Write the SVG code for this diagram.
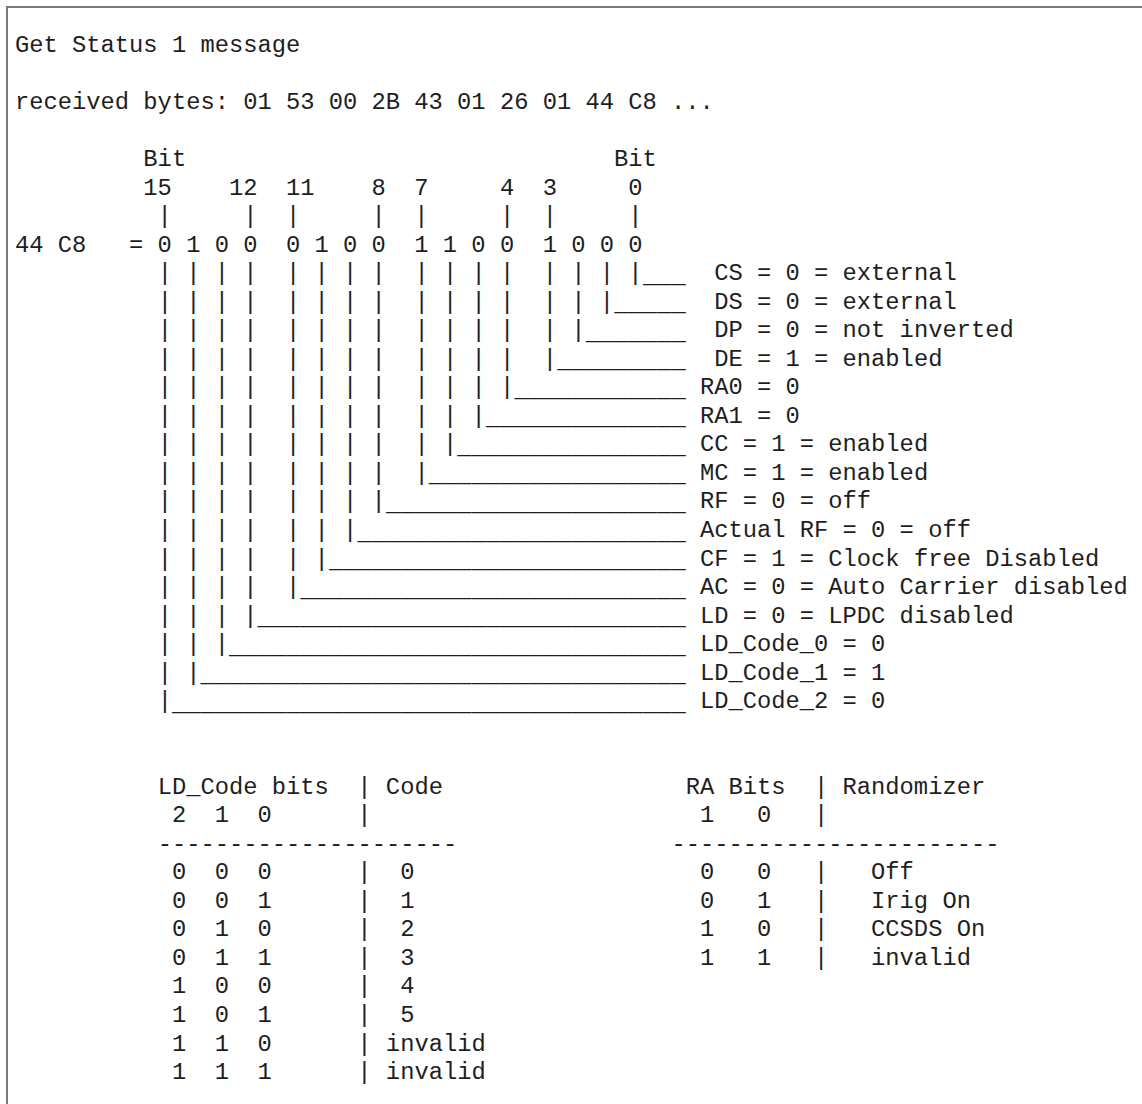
<svg xmlns="http://www.w3.org/2000/svg" width="1142" height="1104" viewBox="0 0 1142 1104" xml:space="preserve">
<style>
  text { font-family: "Liberation Mono", "Courier New", monospace; font-size: 23.783px; fill: #1e1e1e; white-space: pre; }
  .frame { fill: none; stroke: #7a7a7a; stroke-width: 2; }
</style>
<rect x="0" y="0" width="1142" height="1104" fill="#ffffff"/>
<path class="frame" d="M7 1104 V7 H1142"/>

<g id="header">
  <text x="15" y="52">Get Status 1 message</text>
  <text x="15" y="109.06">received bytes: 01 53 00 2B 43 01 26 01 44 C8 ...</text>
  <text x="15" y="166.12">         Bit                              Bit</text>
  <text x="15" y="194.65">         15    12  11    8  7     4  3     0</text>
  <text x="15" y="223.18">          |     |  |     |  |     |  |     |</text>
  <text x="15" y="251.71">44 C8   = 0 1 0 0  0 1 0 0  1 1 0 0  1 0 0 0</text>
</g>

<g id="bitmap">
  <text x="157.7" y="280.24">| | | |  | | | |  | | | |  | | | |</text>
  <text x="157.7" y="308.77">| | | |  | | | |  | | | |  | | |</text>
  <text x="157.7" y="337.3">| | | |  | | | |  | | | |  | |</text>
  <text x="157.7" y="365.83">| | | |  | | | |  | | | |  |</text>
  <text x="157.7" y="394.36">| | | |  | | | |  | | | |</text>
  <text x="157.7" y="422.89">| | | |  | | | |  | | |</text>
  <text x="157.7" y="451.42">| | | |  | | | |  | |</text>
  <text x="157.7" y="479.95">| | | |  | | | |  |</text>
  <text x="157.7" y="508.48">| | | |  | | | |</text>
  <text x="157.7" y="537.01">| | | |  | | |</text>
  <text x="157.7" y="565.54">| | | |  | |</text>
  <text x="157.7" y="594.07">| | | |  |</text>
  <text x="157.7" y="622.6">| | | |</text>
  <text x="157.7" y="651.13">| | |</text>
  <text x="157.7" y="679.66">| |</text>
  <text x="157.7" y="708.19">|</text>
</g>

<g id="leaders" transform="translate(0,2.5)">
  <text x="642.88" y="280.24" textLength="42.81" lengthAdjust="spacingAndGlyphs">___</text>
  <text x="614.34" y="308.77" textLength="71.35" lengthAdjust="spacingAndGlyphs">_____</text>
  <text x="585.80" y="337.3" textLength="99.89" lengthAdjust="spacingAndGlyphs">_______</text>
  <text x="557.26" y="365.83" textLength="128.43" lengthAdjust="spacingAndGlyphs">_________</text>
  <text x="514.45" y="394.36" textLength="171.24" lengthAdjust="spacingAndGlyphs">____________</text>
  <text x="485.91" y="422.89" textLength="199.78" lengthAdjust="spacingAndGlyphs">______________</text>
  <text x="457.37" y="451.42" textLength="228.32" lengthAdjust="spacingAndGlyphs">________________</text>
  <text x="428.83" y="479.95" textLength="256.86" lengthAdjust="spacingAndGlyphs">__________________</text>
  <text x="386.02" y="508.48" textLength="299.67" lengthAdjust="spacingAndGlyphs">_____________________</text>
  <text x="357.48" y="537.01" textLength="328.21" lengthAdjust="spacingAndGlyphs">_______________________</text>
  <text x="328.94" y="565.54" textLength="356.75" lengthAdjust="spacingAndGlyphs">_________________________</text>
  <text x="300.40" y="594.07" textLength="385.29" lengthAdjust="spacingAndGlyphs">___________________________</text>
  <text x="257.59" y="622.6" textLength="428.10" lengthAdjust="spacingAndGlyphs">______________________________</text>
  <text x="229.05" y="651.13" textLength="456.64" lengthAdjust="spacingAndGlyphs">________________________________</text>
  <text x="200.51" y="679.66" textLength="485.18" lengthAdjust="spacingAndGlyphs">__________________________________</text>
  <text x="171.97" y="708.19" textLength="513.72" lengthAdjust="spacingAndGlyphs">____________________________________</text>
</g>

<g id="labels">
  <text x="714.23" y="280.24">CS = 0 = external</text>
  <text x="714.23" y="308.77">DS = 0 = external</text>
  <text x="714.23" y="337.3">DP = 0 = not inverted</text>
  <text x="714.23" y="365.83">DE = 1 = enabled</text>
  <text x="699.96" y="394.36">RA0 = 0</text>
  <text x="699.96" y="422.89">RA1 = 0</text>
  <text x="699.96" y="451.42">CC = 1 = enabled</text>
  <text x="699.96" y="479.95">MC = 1 = enabled</text>
  <text x="699.96" y="508.48">RF = 0 = off</text>
  <text x="699.96" y="537.01">Actual RF = 0 = off</text>
  <text x="699.96" y="565.54">CF = 1 = Clock free Disabled</text>
  <text x="699.96" y="594.07">AC = 0 = Auto Carrier disabled</text>
  <text x="699.96" y="622.6">LD = 0 = LPDC disabled</text>
  <text x="699.96" y="651.13">LD_Code_0 = 0</text>
  <text x="699.96" y="679.66">LD_Code_1 = 1</text>
  <text x="699.96" y="708.19">LD_Code_2 = 0</text>
</g>

<g id="ld-code-table">
  <text x="157.7" y="793.78">LD_Code bits  | Code</text>
  <text x="157.7" y="822.31"> 2  1  0      |</text>
  <text x="157.7" y="850.84" textLength="299.67" lengthAdjust="spacingAndGlyphs">---------------------</text>
  <text x="157.7" y="879.37"> 0  0  0      |  0</text>
  <text x="157.7" y="907.9"> 0  0  1      |  1</text>
  <text x="157.7" y="936.43"> 0  1  0      |  2</text>
  <text x="157.7" y="964.96"> 0  1  1      |  3</text>
  <text x="157.7" y="993.49"> 1  0  0      |  4</text>
  <text x="157.7" y="1022.02"> 1  0  1      |  5</text>
  <text x="157.7" y="1050.55"> 1  1  0      | invalid</text>
  <text x="157.7" y="1079.08"> 1  1  1      | invalid</text>
</g>

<g id="ra-table">
  <text x="685.69" y="793.78">RA Bits  | Randomizer</text>
  <text x="685.69" y="822.31"> 1   0   |</text>
  <text x="671.42" y="850.84" textLength="328.21" lengthAdjust="spacingAndGlyphs">-----------------------</text>
  <text x="685.69" y="879.37"> 0   0   |   Off</text>
  <text x="685.69" y="907.9"> 0   1   |   Irig On</text>
  <text x="685.69" y="936.43"> 1   0   |   CCSDS On</text>
  <text x="685.69" y="964.96"> 1   1   |   invalid</text>
</g>
</svg>
